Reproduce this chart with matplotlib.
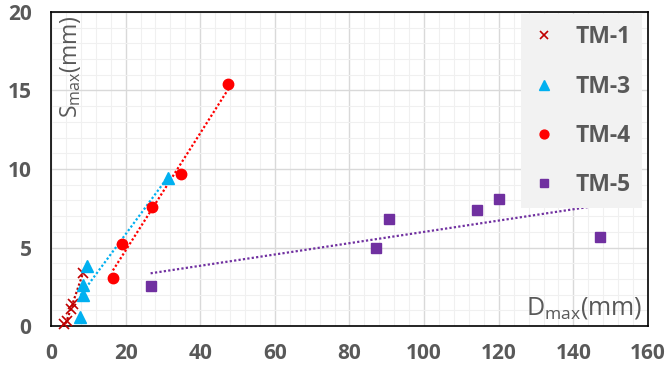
import numpy as np
import matplotlib
matplotlib.use("Agg")
import matplotlib.pyplot as plt
from matplotlib.ticker import MultipleLocator

plt.rcParams['font.family'] = ['Open Sans', 'DejaVu Sans']

# data (Dmax, Smax in mm)
tm1_d = [3.6, 4.4, 5.4, 5.9, 8.5]
tm1_s = [0.1, 0.3, 1.1, 1.4, 3.4]
tm3_d = [7.9, 8.5, 8.7, 9.7, 31.4]
tm3_s = [0.6, 1.97, 2.6, 3.8, 9.4]
tm4_d = [16.6, 19.0, 27.0, 34.9, 47.5]
tm4_s = [3.04, 5.2, 7.56, 9.66, 15.4]
tm5_d = [26.7, 87.0, 90.5, 114.2, 120.0, 147.1]
tm5_s = [2.55, 4.95, 6.8, 7.4, 8.1, 5.65]

x_ticks = [0, 20, 40, 60, 80, 100, 120, 140, 160]
y_ticks = [0, 5, 10, 15, 20]

series = [
    ("TM-1", tm1_d, tm1_s, "#c00000", "x", 7, 1.2),
    ("TM-3", tm3_d, tm3_s, "#00b0f0", "^", 8.5, 0),
    ("TM-4", tm4_d, tm4_s, "#ff0000", "o", 7.5, 0),
    ("TM-5", tm5_d, tm5_s, "#7030a0", "s", 6.5, 0),
]

txt_col = "#595959"

fig = plt.figure(figsize=(6.69, 3.70), dpi=100)
ax = fig.add_axes([0.0762, 0.1189, 0.8924, 0.8487])

handles = []
for name, d, s, col, mk, ms, mew in series:
    d = np.array(d)
    s = np.array(s)
    # linear trendline over the data range
    k, b = np.polyfit(d, s, 1)
    xs = np.array([d.min(), d.max()])
    ax.plot(xs, k * xs + b, linestyle=(0, (1, 1)), color=col, lw=1.6, zorder=2)
    h, = ax.plot(d, s, linestyle="none", marker=mk, color=col, markersize=ms,
                 markeredgewidth=mew if mew else 1, zorder=3, clip_on=False,
                 label=name)
    handles.append(h)

ax.set_xlim(0, 160)
ax.set_ylim(0, 20)
ax.set_xticks(x_ticks)
ax.set_yticks(y_ticks)
ax.xaxis.set_minor_locator(MultipleLocator(4))
ax.yaxis.set_minor_locator(MultipleLocator(1))
ax.grid(which="major", color="#d9d9d9", lw=1, zorder=0)
ax.grid(which="minor", color="#f0f0f0", lw=0.8, zorder=0)
ax.set_axisbelow(True)
ax.tick_params(which="both", length=0)
ax.tick_params(axis="x", pad=12)
ax.tick_params(axis="y", pad=14)
for lab in ax.get_xticklabels() + ax.get_yticklabels():
    lab.set_fontsize(15)
    lab.set_fontweight("bold")
    lab.set_color(txt_col)
for sp in ax.spines.values():
    sp.set_color("black")
    sp.set_linewidth(1.2)

ax.text(0.99, 0.015, r"D$_\mathregular{max}$(mm)", transform=ax.transAxes,
        ha="right", va="bottom", fontsize=18, color=txt_col)
ax.text(0.012, 0.99, r"S$_\mathregular{max}$(mm)", transform=ax.transAxes,
        ha="left", va="top", rotation=90, fontsize=16.5, color=txt_col)

leg = ax.legend(handles=handles, loc="upper right", bbox_to_anchor=(0.99, 0.994),
                labelspacing=1.1, handlelength=1.0, handletextpad=0.85,
                borderpad=0.5, borderaxespad=0, frameon=True, fancybox=False,
                facecolor="#f2f2f2", edgecolor="none", framealpha=1,
                prop={"weight": "bold", "size": 16.5}, markerscale=0.85)
for t in leg.get_texts():
    t.set_color(txt_col)

fig.savefig("out.png", dpi=100)
